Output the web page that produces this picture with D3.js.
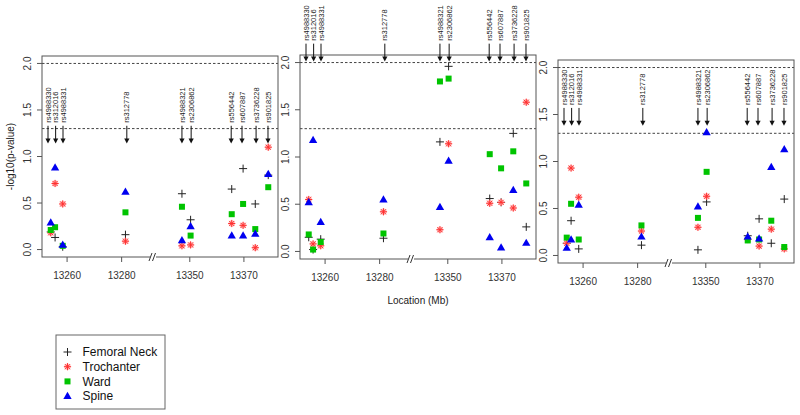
<!DOCTYPE html>
<html><head><meta charset="utf-8">
<script src="https://cdn.jsdelivr.net/npm/d3@7/dist/d3.min.js"></script>
<style>body{margin:0;background:#fff} svg{display:block;font-family:Arial,"Liberation Sans",sans-serif}</style>
</head><body><svg id="c" width="800" height="415"></svg>
<script>
// ---------- data ----------
const snps = ["rs4988330","rs312016","rs4988331","rs312778","rs4988321","rs2306862","rs556442","rs607887","rs3736228","rs901825"];
const locations = [13254.0,13255.6,13258.4,13281.4,13347.1,13350.3,13365.5,13369.7,13374.2,13379.0];
const arrowLocations = [13253.0,13255.8,13258.5,13281.9,13347.1,13350.5,13365.3,13369.3,13374.5,13378.9];
const xTicks = [13260,13280,13350,13370];
const yTicks = [0,0.5,1.0,1.5,2.0];
const thresholds = [1.3,2.0];
const seriesNames = ["Femoral Neck","Trochanter","Ward","Spine"];
const arrowTips = [1.14,2.01,1.38];

const neckP1  = [0.19,0.13,0.03,0.16,0.60,0.32,0.65,0.87,0.49,0.80];
const trochP1 = [0.18,0.71,0.49,0.09,0.04,0.05,0.28,0.26,0.02,1.10];
const wardP1  = [0.21,0.24,0.04,0.40,0.46,0.15,0.38,0.49,0.22,0.67];
const spineP1 = [0.29,0.88,0.05,0.62,0.10,0.25,0.15,0.15,0.17,0.81];

const neckP2  = [0.15,0.02,0.13,0.14,1.16,1.96,0.56,0.52,1.25,0.26];
const trochP2 = [0.55,0.08,0.06,0.42,0.23,1.14,0.51,0.52,0.46,1.58];
const wardP2  = [0.18,0.02,0.10,0.19,1.80,1.83,1.03,0.88,1.06,0.72];
const spineP2 = [0.52,1.18,0.31,0.55,0.47,0.96,0.15,0.04,0.65,0.09];

const neckP3  = [0.13,0.37,0.07,0.11,0.06,0.57,0.21,0.39,0.13,0.60];
const trochP3 = [0.13,0.93,0.62,0.26,0.30,0.63,0.17,0.10,0.28,0.07];
const wardP3  = [0.19,0.55,0.17,0.32,0.40,0.89,0.16,0.17,0.37,0.09];
const spineP3 = [0.08,0.17,0.54,0.20,0.52,1.31,0.20,0.18,0.94,1.13];

const panelData = [
  [neckP1,trochP1,wardP1,spineP1],
  [neckP2,trochP2,wardP2,spineP2],
  [neckP3,trochP3,wardP3,spineP3]
];

// ---------- layout ----------
const panels = [
  {left:42,  top:56, bottom:257},
  {left:300, top:55, bottom:259},
  {left:558, top:60, bottom:263}
];
const PW = 236, BREAK = 111;
const xDomain = [13250.8, 13291.5, 13336.4, 13382.6];
const yDomain = [-0.08, 2.08];
const colors = ["#222", "#ff3030", "#00c400", "#0000f0"];

const svg = d3.select("#c");

function drawMarker(g, type, x, y) {
  if (type === 0) {
    g.append("path").attr("d", `M${x-4},${y}H${x+4}M${x},${y-4}V${y+4}`)
      .attr("stroke", colors[0]).attr("stroke-width", 1).attr("fill", "none");
  } else if (type === 1) {
    g.append("circle").attr("cx", x).attr("cy", y).attr("r", 3.2).attr("fill", "#ffc0c0");
    const r = 3.6, d = r * Math.SQRT1_2;
    g.append("path").attr("d", `M${x-r},${y}H${x+r}M${x},${y-r}V${y+r}M${x-d},${y-d}L${x+d},${y+d}M${x-d},${y+d}L${x+d},${y-d}`)
      .attr("stroke", colors[1]).attr("stroke-width", 1).attr("fill", "none");
  } else if (type === 2) {
    g.append("rect").attr("x", x-3).attr("y", y-3).attr("width", 6).attr("height", 6).attr("fill", colors[2]);
  } else {
    g.append("path").attr("d", d3.symbol(d3.symbolTriangle, 30)())
      .attr("transform", `translate(${x},${y+0.5})`).attr("fill", colors[3]);
  }
}

panels.forEach((p, pi) => {
  const g = svg.append("g");
  const x = d3.scaleLinear().domain(xDomain).range([p.left, p.left+BREAK, p.left+BREAK, p.left+PW]);
  const y = d3.scaleLinear().domain(yDomain).range([p.bottom, p.top]);

  thresholds.forEach(t => {
    g.append("line").attr("x1", p.left).attr("x2", p.left+PW).attr("y1", y(t)).attr("y2", y(t))
      .attr("stroke", "#444").attr("stroke-width", 1).attr("stroke-dasharray", "2.5,2");
  });

  g.append("rect").attr("x", p.left).attr("y", p.top).attr("width", PW).attr("height", p.bottom-p.top)
    .attr("fill", "none").attr("stroke", "#555").attr("stroke-width", 1);

  yTicks.forEach(t => {
    g.append("line").attr("x1", p.left-5).attr("x2", p.left).attr("y1", y(t)).attr("y2", y(t))
      .attr("stroke", "#555");
    g.append("text").attr("transform", `translate(${p.left-11},${y(t)}) rotate(-90)`)
      .attr("text-anchor", "middle").attr("font-size", 10).attr("fill", "#333")
      .text(d3.format(".1f")(t));
  });

  xTicks.forEach(t => {
    g.append("line").attr("x1", x(t)).attr("x2", x(t)).attr("y1", p.bottom).attr("y2", p.bottom+5)
      .attr("stroke", "#555");
    g.append("text").attr("x", x(t)).attr("y", p.bottom+22).attr("text-anchor", "middle")
      .attr("font-size", 10).attr("fill", "#333").text(t);
  });

  const bx = p.left + BREAK;
  g.append("rect").attr("x", bx-3).attr("y", p.bottom-1.5).attr("width", 6).attr("height", 3).attr("fill", "#fff");
  [-2, 1.5].forEach(o => {
    g.append("line").attr("x1", bx+o-2).attr("y1", p.bottom+4).attr("x2", bx+o+1).attr("y2", p.bottom-4)
      .attr("stroke", "#333").attr("stroke-width", 1);
  });

  const tip = arrowTips[pi], len = 0.19;
  arrowLocations.forEach((loc, i) => {
    const ax = x(loc), yt = y(tip), ys = y(tip + len);
    g.append("line").attr("x1", ax).attr("x2", ax).attr("y1", ys).attr("y2", yt-3)
      .attr("stroke", "#111").attr("stroke-width", 1);
    g.append("path").attr("d", `M${ax-2.6},${yt-5}L${ax+2.6},${yt-5}L${ax},${yt}Z`).attr("fill", "#111");
    g.append("text").attr("transform", `translate(${ax},${ys-3}) rotate(-90)`)
      .attr("text-anchor", "start").attr("dy", "0.35em").attr("font-size", 7.5).attr("fill", "#222")
      .text(snps[i]);
  });

  panelData[pi].forEach((series, si) => {
    series.forEach((v, i) => drawMarker(g, si, x(locations[i]), y(v)));
  });
});

svg.append("text").attr("transform", `translate(10,${(panels[0].top+panels[0].bottom)/2}) rotate(-90)`)
  .attr("text-anchor", "middle").attr("dy", "0.35em").attr("font-size", 10).attr("fill", "#222")
  .text("-log10(p-value)");

svg.append("text").attr("x", panels[1].left + PW/2).attr("y", 304).attr("text-anchor", "middle")
  .attr("font-size", 10).attr("fill", "#222").text("Location (Mb)");

const lg = svg.append("g");
lg.append("rect").attr("x", 56).attr("y", 335).attr("width", 109).attr("height", 74)
  .attr("fill", "#fff").attr("stroke", "#666").attr("stroke-width", 1);
seriesNames.forEach((name, i) => {
  const ly = 352 + i*14.7;
  drawMarker(lg, i, 67.5, ly);
  lg.append("text").attr("x", 82.5).attr("y", ly).attr("dy", "0.36em").attr("font-size", 12)
    .attr("fill", "#111").text(name);
});
</script></body></html>
